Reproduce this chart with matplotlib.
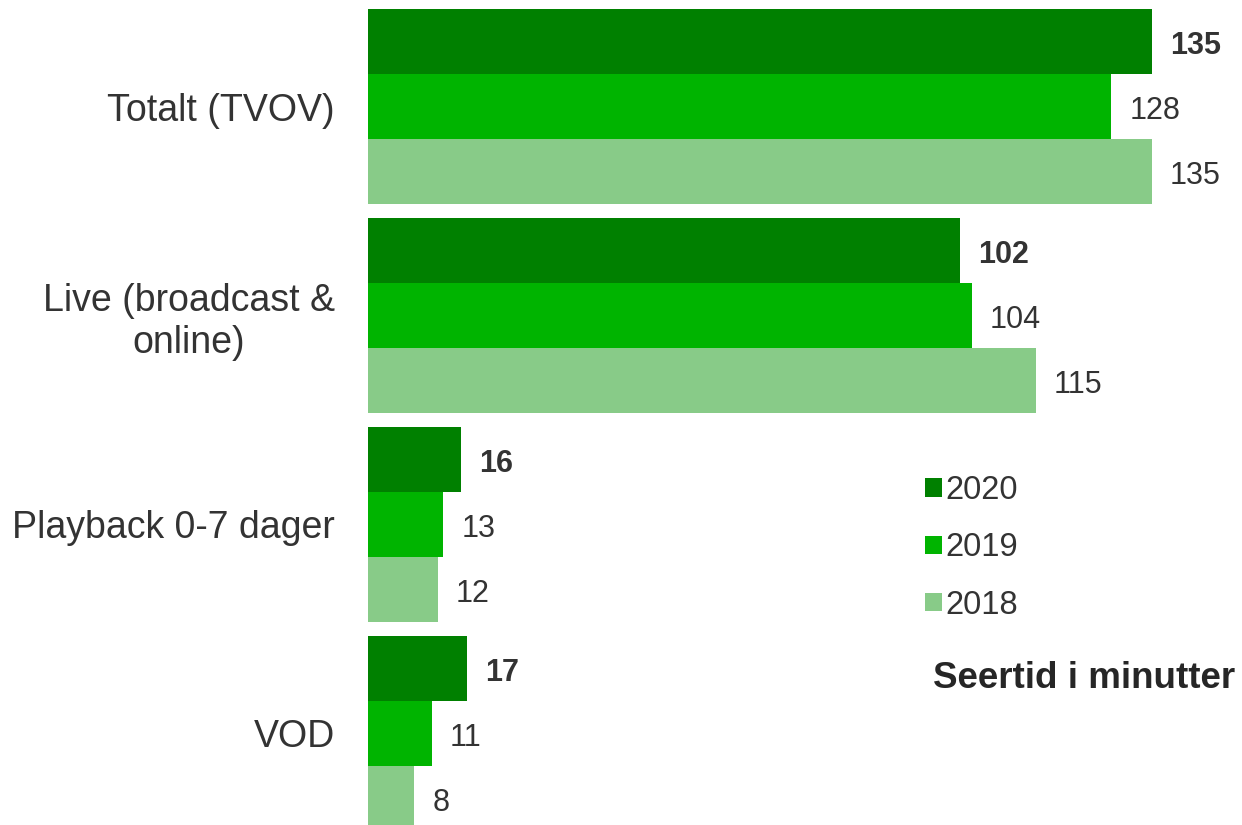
import numpy as np
import matplotlib.pyplot as plt

plt.rcParams['font.family'] = ['Liberation Sans', 'DejaVu Sans']

# data
categories = ['Totalt (TVOV)', 'Live (broadcast &\nonline)', 'Playback 0-7 dager', 'VOD']
years = ['2020', '2019', '2018']
v2020 = [135, 102, 16, 17]
v2019 = [128, 104, 13, 11]
v2018 = [135, 115, 12, 8]
colors = ['#008000', '#00b400', '#88cb88']

W, H = 1242, 825
fig = plt.figure(figsize=(W / 100, H / 100), dpi=100)
left = 368
ax = fig.add_axes([left / W, 0, (W - left) / W, 1])

h = 0.311
y = np.arange(len(categories))
series = [v2020, v2019, v2018]
for i, (vals, yr, c) in enumerate(zip(series, years, colors)):
    pos = y + (i - 1) * h
    ax.barh(pos, vals, height=h, color=c, label=yr)
    for v, p in zip(vals, pos):
        ax.annotate(str(v), (v, p), xytext=(13, -3), textcoords='offset points',
                    ha='left', va='center', fontsize=22, color='#333333',
                    fontweight='bold' if i == 0 else 'normal')

ax.set_xlim(0, (W - left) / 5.807)
ax.set_ylim(3.438, -0.5096)
ax.set_yticks(y)
ax.set_yticklabels(categories, fontsize=27, color='#333333', multialignment='center')
ax.tick_params(axis='y', length=0, pad=24)
ax.set_xticks([])
for s in ax.spines.values():
    s.set_visible(False)

ax.legend(loc='upper left', bbox_to_anchor=(909 / W, 1 - 459 / H), bbox_transform=fig.transFigure,
          frameon=False, fontsize=23.5, handlelength=0.5, handleheight=0.5, handletextpad=0.1,
          labelspacing=0.8, borderpad=0, labelcolor='#333333')

fig.text(933 / W, 1 - 679 / H, 'Seertid i minutter', fontsize=26.5, fontweight='bold',
         color='#262626', va='center', ha='left')

fig.savefig('out.png', dpi=100)
